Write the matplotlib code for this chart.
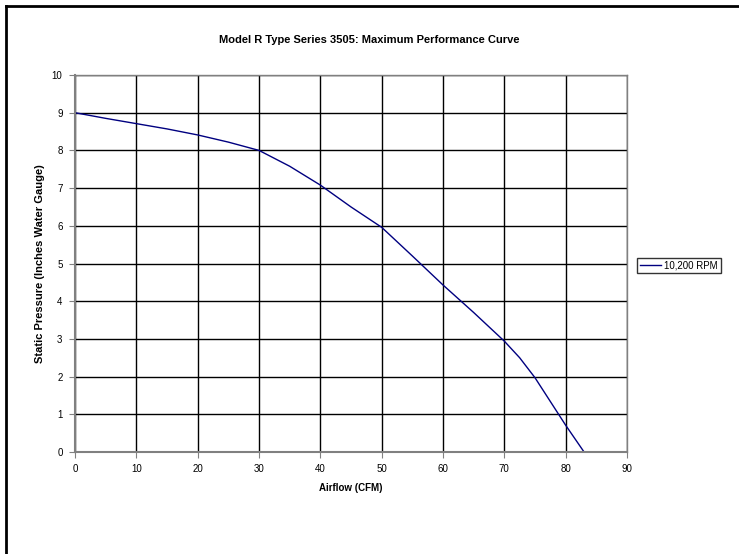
import matplotlib.pyplot as plt
from matplotlib.lines import Line2D

plt.rcParams['font.family'] = ['Liberation Sans', 'DejaVu Sans']

# Fan curve
airflow = [0, 5, 10, 15, 20, 25, 30, 35, 40, 45, 50, 55, 60, 65, 70, 72.5, 75, 80, 83]
pressure = [9.0, 8.85, 8.71, 8.57, 8.41, 8.22, 8.0, 7.58, 7.08, 6.5, 5.96, 5.2, 4.43, 3.7, 2.94, 2.5, 1.97, 0.71, 0.0]
series_name = '10,200 RPM'
x_ticks = list(range(0, 91, 10))
y_ticks = list(range(0, 11))

fig = plt.figure(figsize=(7.39, 5.54), dpi=100)
ax = fig.add_axes([75 / 739, 1 - 452 / 554, 552 / 739, 377 / 554])

ax.plot(airflow, pressure, color='#000080', linewidth=1, label=series_name)

ax.set_xlim(0, 90)
ax.set_ylim(0, 10)
ax.set_xticks(x_ticks)
ax.set_yticks(y_ticks)
ax.grid(True, color='black', linewidth=1)
ax.set_axisbelow(True)
for s in ax.spines.values():
    s.set_color('#808080')
    s.set_linewidth(1)
ax.spines['left'].set_linewidth(1.5)
ax.spines['bottom'].set_linewidth(1.5)
ax.tick_params(axis='both', labelsize=7, direction='out', length=4, color='#808080', pad=5)

ax.set_xlabel('Airflow (CFM)', fontsize=7, fontweight='bold', labelpad=6)
ax.set_ylabel('Static Pressure (Inches Water Gauge)', fontsize=8, fontweight='bold', labelpad=5)
fig.text(0.5, 1 - 40 / 554, 'Model R Type Series 3505: Maximum Performance Curve',
         ha='center', va='center', fontsize=8, fontweight='bold')

leg = ax.legend(loc='center', bbox_to_anchor=(679 / 739, 1 - 265.5 / 554),
                bbox_transform=fig.transFigure, fontsize=7, frameon=True,
                fancybox=False, handlelength=2.2, handletextpad=0.3,
                borderpad=0.3, borderaxespad=0)
leg.get_frame().set_edgecolor('black')
leg.get_frame().set_linewidth(1)

# outer chart border (left and top edges visible)
fig.add_artist(Line2D([6 / 739, 6 / 739], [0, 1 - 6 / 554], color='black', linewidth=2, transform=fig.transFigure))
fig.add_artist(Line2D([6 / 739, 1], [1 - 6 / 554, 1 - 6 / 554], color='black', linewidth=2, transform=fig.transFigure))

fig.savefig('out.png', dpi=100)
